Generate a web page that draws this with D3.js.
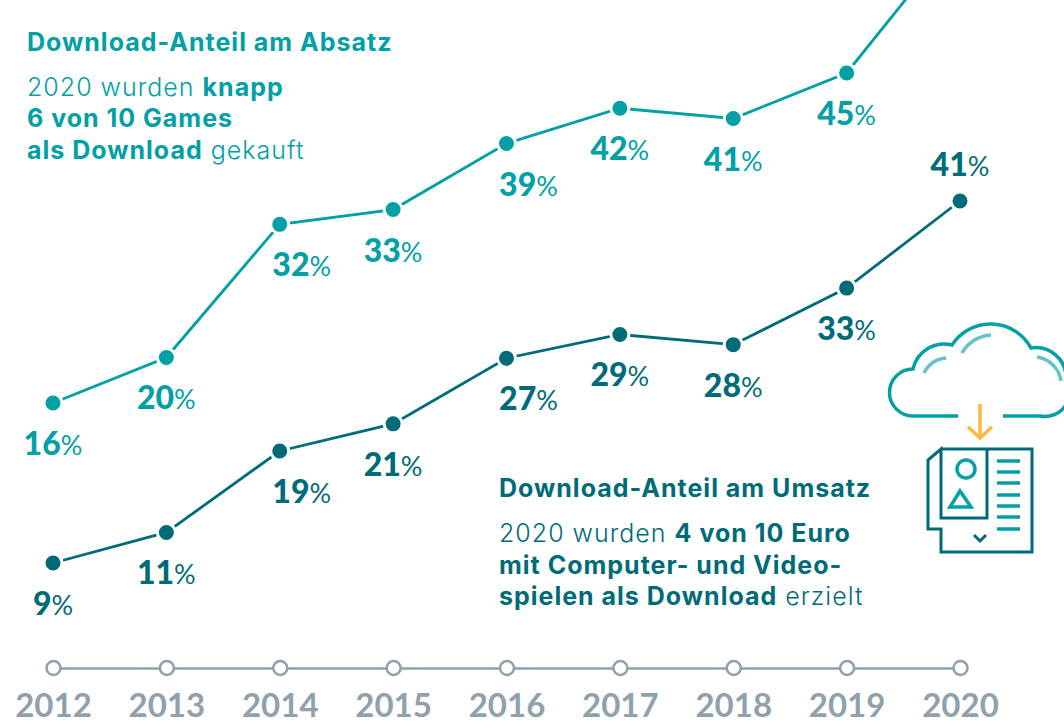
<!DOCTYPE html>
<html>
<head>
<meta charset="utf-8">
<script src="https://cdn.jsdelivr.net/npm/d3@7"></script>
<style>
  html, body { margin: 0; background: #fff; overflow: hidden; }
  svg text { font-family: Inter, sans-serif; }
  svg text.num { font-family: Lato, sans-serif; }
</style>
</head>
<body>
<script>
const width = 1064;
const height = 725;
const teal = '#00a0a5';
const dark = '#006b78';
const grey = '#8fa1aa';

const years = [2012, 2013, 2014, 2015, 2016, 2017, 2018, 2019, 2020];
// line heights, labels as printed
const absatz_values = [16, 20, 31.7, 33, 38.8, 41.9, 41, 45, 57.4];
const umsatz_values = [9, 11.7, 18.9, 21.3, 27.1, 29.2, 28.3, 33.3, 41];
const absatz_labels = ['16', '20', '32', '33', '39', '42', '41', '45', null];
const umsatz_labels = ['9', '11', '19', '21', '27', '29', '28', '33', '41'];

const absatz_text = [
  [['Download-Anteil am Absatz', 700]],
  [['2020 wurden ', 300], ['knapp', 700]],
  [['6 von 10 Games', 700]],
  [['als Download', 700], [' gekauft', 300]]
];
const umsatz_text = [
  [['Download-Anteil am Umsatz', 700]],
  [['2020 wurden ', 300], ['4 von 10 Euro', 700]],
  [['mit Computer- und Video-', 700]],
  [['spielen als Download', 700], [' erzielt', 300]]
];

const x = d3.scalePoint().domain(years).range([53, 960]);
const y_absatz = d3.scaleLinear().domain([16, 45]).range([403, 73]);
const y_umsatz = d3.scaleLinear().domain([9, 41]).range([563, 201]);

const svg = d3.select('body')
    .append('svg')
    .attr('width', width)
    .attr('height', height)
    .style('display', 'block');

// time axis
const axis = svg.append('g')
    .attr('transform', 'translate(0,668)')
    .call(d3.axisBottom(x).tickSize(0).tickPadding(26).tickFormat(d3.format('d')));
axis.select('.domain').attr('stroke', grey).attr('stroke-width', 2.5);
axis.selectAll('.tick text')
    .attr('class', 'num')
    .attr('fill', grey)
    .attr('font-size', 33)
    .attr('font-weight', 700);
axis.selectAll('.tick')
    .append('circle')
    .attr('r', 7)
    .attr('fill', '#fff')
    .attr('stroke', grey)
    .attr('stroke-width', 2.5);

// labels of the steep years sit to the right so they clear the line
const label_shift = year => (year === 2014 || year === 2016 ? 22 : 0);

function draw_series(values, labels, y, color) {
  const line = d3.line().x((d, i) => x(years[i])).y(d => y(d));
  const g = svg.append('g');
  g.append('path')
      .attr('d', line(values))
      .attr('fill', 'none')
      .attr('stroke', color)
      .attr('stroke-width', 2.8);
  g.selectAll('circle')
      .data(values)
      .enter()
      .append('circle')
      .attr('cx', (d, i) => x(years[i]))
      .attr('cy', d => y(d))
      .attr('r', 9)
      .attr('fill', color)
      .attr('stroke', '#fff')
      .attr('stroke-width', 3);
  const label = g.selectAll('text')
      .data(values)
      .enter()
      .filter((d, i) => labels[i] !== null)
      .append('text')
      .attr('class', 'num')
      .attr('x', (d, i) => x(years[i]) + label_shift(years[i]))
      // the last point has its label above
      .attr('y', (d, i) => y(d) + (i === 8 ? -25 : 52))
      .attr('text-anchor', 'middle')
      .attr('fill', color);
  label.append('tspan')
      .attr('font-size', 32)
      .attr('font-weight', 900)
      .text((d, i) => labels[i]);
  label.append('tspan')
      .attr('font-size', 27)
      .attr('font-weight', 400)
      .text('%');
}

draw_series(absatz_values, absatz_labels, y_absatz, teal);
draw_series(umsatz_values, umsatz_labels, y_umsatz, dark);

function draw_text(rows, left, baselines, color) {
  rows.forEach((row, r) => {
    const t = svg.append('text')
        .attr('x', left)
        .attr('y', baselines[r])
        .attr('fill', color)
        .attr('font-size', 25)
        .attr('letter-spacing', 1)
        .style('white-space', 'pre');
    row.forEach(run => {
      t.append('tspan').attr('font-weight', run[1]).text(run[0]);
    });
  });
}

draw_text(absatz_text, 27, [51, 96, 127, 159], teal);
draw_text(umsatz_text, 499, [497, 542, 574, 605], dark);

// cloud and game box icon
const icon = svg.append('g').attr('fill', 'none');
icon.append('path')
    .attr('d', 'M958,416H913A23.5,23.5 0 0 1 913,369A32,32 0 0 1 952,345A46,46 0 0 1 1031,348A30,30 0 0 1 1066,378A25,25 0 0 1 1040,416H1003')
    .attr('stroke', teal)
    .attr('stroke-width', 3.5);
icon.append('path')
    .attr('d', 'M924,373A26,26 0 0 1 946,358M962,353A36,36 0 0 1 991,335M1037,357A28,28 0 0 1 1061,381')
    .attr('stroke', '#66c4c6')
    .attr('stroke-width', 3.5);
icon.append('path')
    .attr('d', 'M980,404V437M968,427L980,438L992,427')
    .attr('stroke', '#fbb93f')
    .attr('stroke-width', 3.5);
icon.append('path')
    .attr('d', 'M941,449H1032V552H941V529H928V460L941,449V518H987V449M974,535L980,541L986,535')
    .attr('stroke', dark)
    .attr('stroke-width', 3);
icon.append('circle')
    .attr('cx', 966)
    .attr('cy', 469)
    .attr('r', 9)
    .attr('stroke', teal)
    .attr('stroke-width', 3.5);
icon.append('path')
    .attr('d', 'M960,491L950,507H971Z')
    .attr('stroke', teal)
    .attr('stroke-width', 3.5);
icon.append('path')
    .attr('d', 'M997,461H1020M997,472H1020M997,483H1020M997,495H1020M997,506H1020M997,517H1020M997,529H1020')
    .attr('stroke', teal)
    .attr('stroke-width', 3.5);
</script>
</body>
</html>
